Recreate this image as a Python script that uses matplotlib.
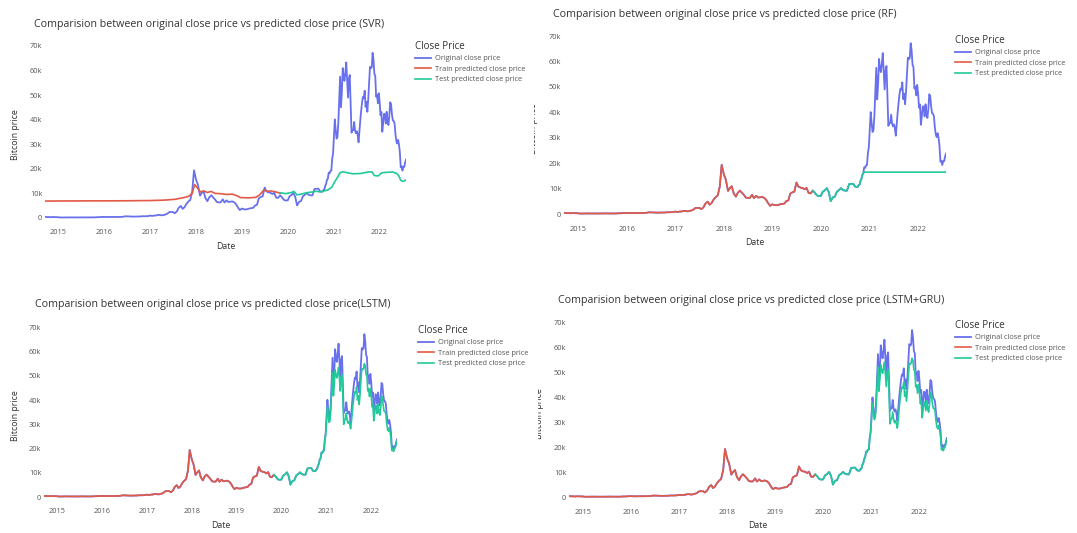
import pandas as pd
import matplotlib
matplotlib.use("Agg")
import matplotlib.pyplot as plt
from matplotlib.transforms import Bbox, TransformedBbox

plt.rcParams["font.family"] = ["Open Sans", "DejaVu Sans"]

W, H = 1077, 533
BLUE, RED, GREEN = "#6870ec", "#e25a45", "#22c99a"

# BTC close: 1st and 15th of each month up to Sep 2020, then every Sunday
semi_dates = pd.date_range("2014-09-15", "2020-09-15", freq="SMS")
week_dates = pd.date_range("2020-10-04", "2022-07-31", freq="W")

close_semi = [
    475, 385, 395, 325, 400, 380, 350,
    315, 210, 225, 235, 260, 285, 245, 220, 235, 237, 222, 235,
    258, 285, 280, 260, 228, 230, 237, 255, 325, 330, 360, 455,
    434, 375, 372, 400, 433, 415, 417, 430, 451, 455, 536, 690,
    676, 663, 606, 567, 573, 607, 615, 638, 731, 711, 754, 778,
    998, 820, 990, 1010, 1222, 1250, 1085, 1180, 1420, 1720, 2400, 2440,
    2430, 1930, 2720, 4150, 4900, 3700, 4400, 5700, 6750, 7300, 10900, 19400,
    15500, 13600, 9100, 10200, 10950, 8250, 6850, 8350, 9250, 8500, 7530, 6500,
    6350, 6350, 7600, 6300, 7190, 6500, 6620, 6750, 6380, 5600, 4200, 3250,
    3850, 3550, 3480, 3620, 3860, 3980, 4150, 5050, 5380, 8000, 8550, 8800,
    12400, 10850, 10400, 10300, 9750, 10300, 8300, 8150, 9200, 8500, 7400, 7100,
    7200, 8800, 9380, 10200, 8520, 5100, 6640, 6840, 8860, 9380, 10200, 9450,
    9230, 9200, 11800, 11900, 11900, 10800,
]
close_week = [
    10680, 11380, 11500, 13030, 13740, 15480, 15960, 18400, 18180, 19150, 19270, 24000, 26270,
    32800, 40100, 35800, 32290, 33100,
    38900, 48700, 57500, 45100,
    51200, 61000, 57500, 55800,
    59100, 63300, 56200, 49000,
    56600, 58200, 46400, 34700, 35700,
    35800, 39100, 35600, 34500,
    35300, 33800, 30800, 35400,
    39900, 43800, 47100, 49300, 48900,
    51800, 45200, 47300, 43200,
    48200, 55000, 61500, 60900, 61300,
    67200, 64400, 58700, 57800,
    49400, 50100, 46700, 50800,
    47300, 41800, 43100, 35100, 38500,
    42400, 42200, 38400, 43200,
    39400, 37800, 41300, 47100,
    46400, 42200, 39700, 39500,
    38500, 34100, 31300, 30300, 31800,
    29900, 26800, 20600, 21000,
    19300, 20900, 20800, 22600, 23800,
]

split_date = "2019-11-01"

# SVR predictions
svr_train_dates = [
    "2014-09-15", "2015-06-01", "2016-06-01", "2017-01-01", "2017-05-01", "2017-07-15",
    "2017-09-15", "2017-11-01", "2017-12-01", "2017-12-20", "2018-01-10", "2018-02-05",
    "2018-03-01", "2018-04-01", "2018-05-01", "2018-06-01", "2018-07-15", "2018-09-01",
    "2018-10-15", "2018-11-20", "2018-12-20", "2019-03-01", "2019-04-20", "2019-05-20",
    "2019-06-25", "2019-07-20", "2019-08-20", "2019-09-20", "2019-10-20", "2019-11-01",
]
svr_train = [
    6900, 6950, 7000, 7100, 7300, 7600, 8200, 8800, 10000, 13600,
    12300, 10600, 11000, 10400, 10800, 10000, 9900, 9600, 9700, 9100,
    8300, 8200, 8400, 9300, 11400, 10900, 11000, 10700, 10300, 10000,
]
svr_test_dates = [
    "2019-11-01", "2019-12-15", "2020-02-01", "2020-02-20", "2020-03-15", "2020-04-15",
    "2020-06-01", "2020-07-15", "2020-08-15", "2020-09-15", "2020-10-15", "2020-11-15",
    "2020-12-15", "2021-01-10", "2021-02-01", "2021-02-20", "2021-03-15", "2021-05-01",
    "2021-06-01", "2021-08-01", "2021-10-01", "2021-11-01", "2021-11-20", "2021-12-20",
    "2022-01-20", "2022-03-01", "2022-04-15", "2022-05-15", "2022-06-01", "2022-06-20",
    "2022-07-10", "2022-07-31",
]
svr_test = [
    10300, 9900, 10400, 10800, 9400, 9700, 10300, 10600, 10900, 10600, 11000, 11400,
    12400, 14800, 16600, 18400, 18800, 18300, 18000, 18100, 18700, 18800, 17300, 17100,
    18400, 18600, 18700, 18200, 17400, 15300, 14900, 15500,
]

# random forest saturates once the price leaves the training range
rf_flat_dates = ["2020-11-22", "2022-07-31"]
rf_flat = [16500, 16500]

# weekly test predictions from Oct 2020
lstm_week = [
    10600, 11300, 11450, 12900, 13600, 15300, 15800, 18100, 18000, 18900, 19000, 23400, 25700,
    31500, 37000, 33800, 30800, 31600,
    36800, 44500, 51200, 41800,
    46500, 52500, 50200, 49200,
    51000, 53500, 49000, 43800,
    49500, 50500, 41000, 30000, 31800,
    32000, 34600, 31600, 30500,
    31200, 30000, 28200, 31400,
    35200, 38800, 41600, 43400, 43000,
    45400, 40000, 41800, 38200,
    42500, 48200, 53000, 52600, 53000,
    55000, 54200, 50500, 50200,
    43800, 44500, 41500, 44800,
    42000, 37200, 38300, 31500, 34400,
    37800, 37600, 34400, 38300,
    35200, 33800, 36800, 41600,
    41200, 37600, 35400, 35200,
    34400, 30400, 28000, 27200, 28600,
    26800, 24000, 19200, 19700,
    18800, 20200, 20300, 22100, 23000,
]
gru_week = [
    10700, 11350, 11500, 12950, 13700, 15400, 15900, 18250, 18100, 19000, 19100, 23700, 26000,
    32000, 37800, 34500, 31200, 32000,
    37400, 45500, 52200, 42600,
    47400, 53200, 51000, 49800,
    51800, 54200, 49800, 44500,
    50400, 51400, 41800, 29500, 31200,
    31600, 34200, 31200, 29900,
    30800, 29600, 27800, 31000,
    35600, 39400, 42300, 44200, 43800,
    46200, 40600, 42400, 38600,
    43100, 49000, 53800, 53400, 53900,
    55800, 54800, 51200, 50800,
    44300, 45000, 41800, 45300,
    42500, 37600, 38800, 32000, 34900,
    38300, 38100, 34800, 38800,
    35600, 34200, 37300, 42200,
    41800, 38000, 35800, 35600,
    34800, 30800, 28300, 27500, 28900,
    27100, 24300, 19100, 19600,
    18700, 20100, 20200, 22000, 23100,
]

close = pd.Series(close_semi + close_week, index=semi_dates.append(week_dates))


def series(dates, values):
    return pd.Series(values, index=pd.to_datetime(dates))


train_fit = close[:split_date]
early_test = close[split_date:"2020-09-15"]

svr = (series(svr_train_dates, svr_train), series(svr_test_dates, svr_test))
rf = (train_fit, pd.concat([close[split_date:"2020-11-15"], series(rf_flat_dates, rf_flat)]))
lstm = (train_fit, pd.concat([early_test, pd.Series(lstm_week, index=week_dates)]))
gru = (train_fit, pd.concat([early_test, pd.Series(gru_week, index=week_dates)]))

title_base = "Comparision between original close price vs predicted close price"
# title, plot box (l, t, r, b) px, title pos, legend pos, ylabel x, ylabel clip x, predictions
panels = [
    (title_base + " (SVR)", (45, 43.5, 406, 226.6), (34, 25), (415, 41), 16, None, svr),
    (title_base + " (RF)", (564, 33.5, 946, 223), (553, 15), (955, 35), 534, 534.3, rf),
    (title_base + "(LSTM)", (44, 325, 397, 505.5), (35, 305), (418, 325), 16, None, lstm),
    (title_base + " (LSTM+GRU)", (569, 320.5, 947, 506), (558, 300), (955, 320), 539, 537.5, gru),
]

years = list(range(2015, 2023))
fig = plt.figure(figsize=(W / 100, H / 100), dpi=100)

for title, (l, t, r, b), (tx, ty), (lx, ly), yx, clip_x, (train_pred, test_pred) in panels:
    ax = fig.add_axes([l / W, 1 - b / H, (r - l) / W, (b - t) / H])
    ax.plot(close.index, close.values, color=BLUE, lw=1.3, label="Original close price")
    ax.plot(train_pred.index, train_pred.values, color=RED, lw=1.2, label="Train predicted close price")
    ax.plot(test_pred.index, test_pred.values, color=GREEN, lw=1.2, label="Test predicted close price")

    ax.set_xlim(close.index[0], close.index[-1])
    ax.set_ylim(-3500, 71000)
    ax.set_yticks(range(0, 70001, 10000), ["0"] + [f"{k}k" for k in range(10, 71, 10)])
    ax.set_xticks(pd.to_datetime([f"{y}-01-01" for y in years]), [str(y) for y in years])
    ax.tick_params(length=0, labelsize=5.3, labelcolor="#555", pad=2)
    for s in ax.spines.values():
        s.set_visible(False)
    ax.set_xlabel("Date", fontsize=6.3, color="#333", labelpad=4)

    fig.text(tx / W, 1 - ty / H, title, fontsize=7.7, color="#333", ha="left", va="center")
    ylab = fig.text(yx / W, 1 - (t + b) / 2 / H, "Bitcoin price", rotation=90,
                    ha="center", va="center", fontsize=6.3, color="#333")
    if clip_x:
        ylab.set_clip_box(TransformedBbox(Bbox.from_extents(clip_x / W, 0, 1, 1), fig.transFigure))

    leg = ax.legend(loc="upper left", bbox_to_anchor=(lx / W, 1 - ly / H),
                    bbox_transform=fig.transFigure, frameon=False, title="Close Price",
                    fontsize=5.3, title_fontsize=7, labelcolor="#555", alignment="left",
                    handlelength=2.2, handletextpad=0.5, labelspacing=0.45,
                    borderpad=0, borderaxespad=0)
    leg.get_title().set_color("#333")

fig.savefig("out.png", dpi=100)
